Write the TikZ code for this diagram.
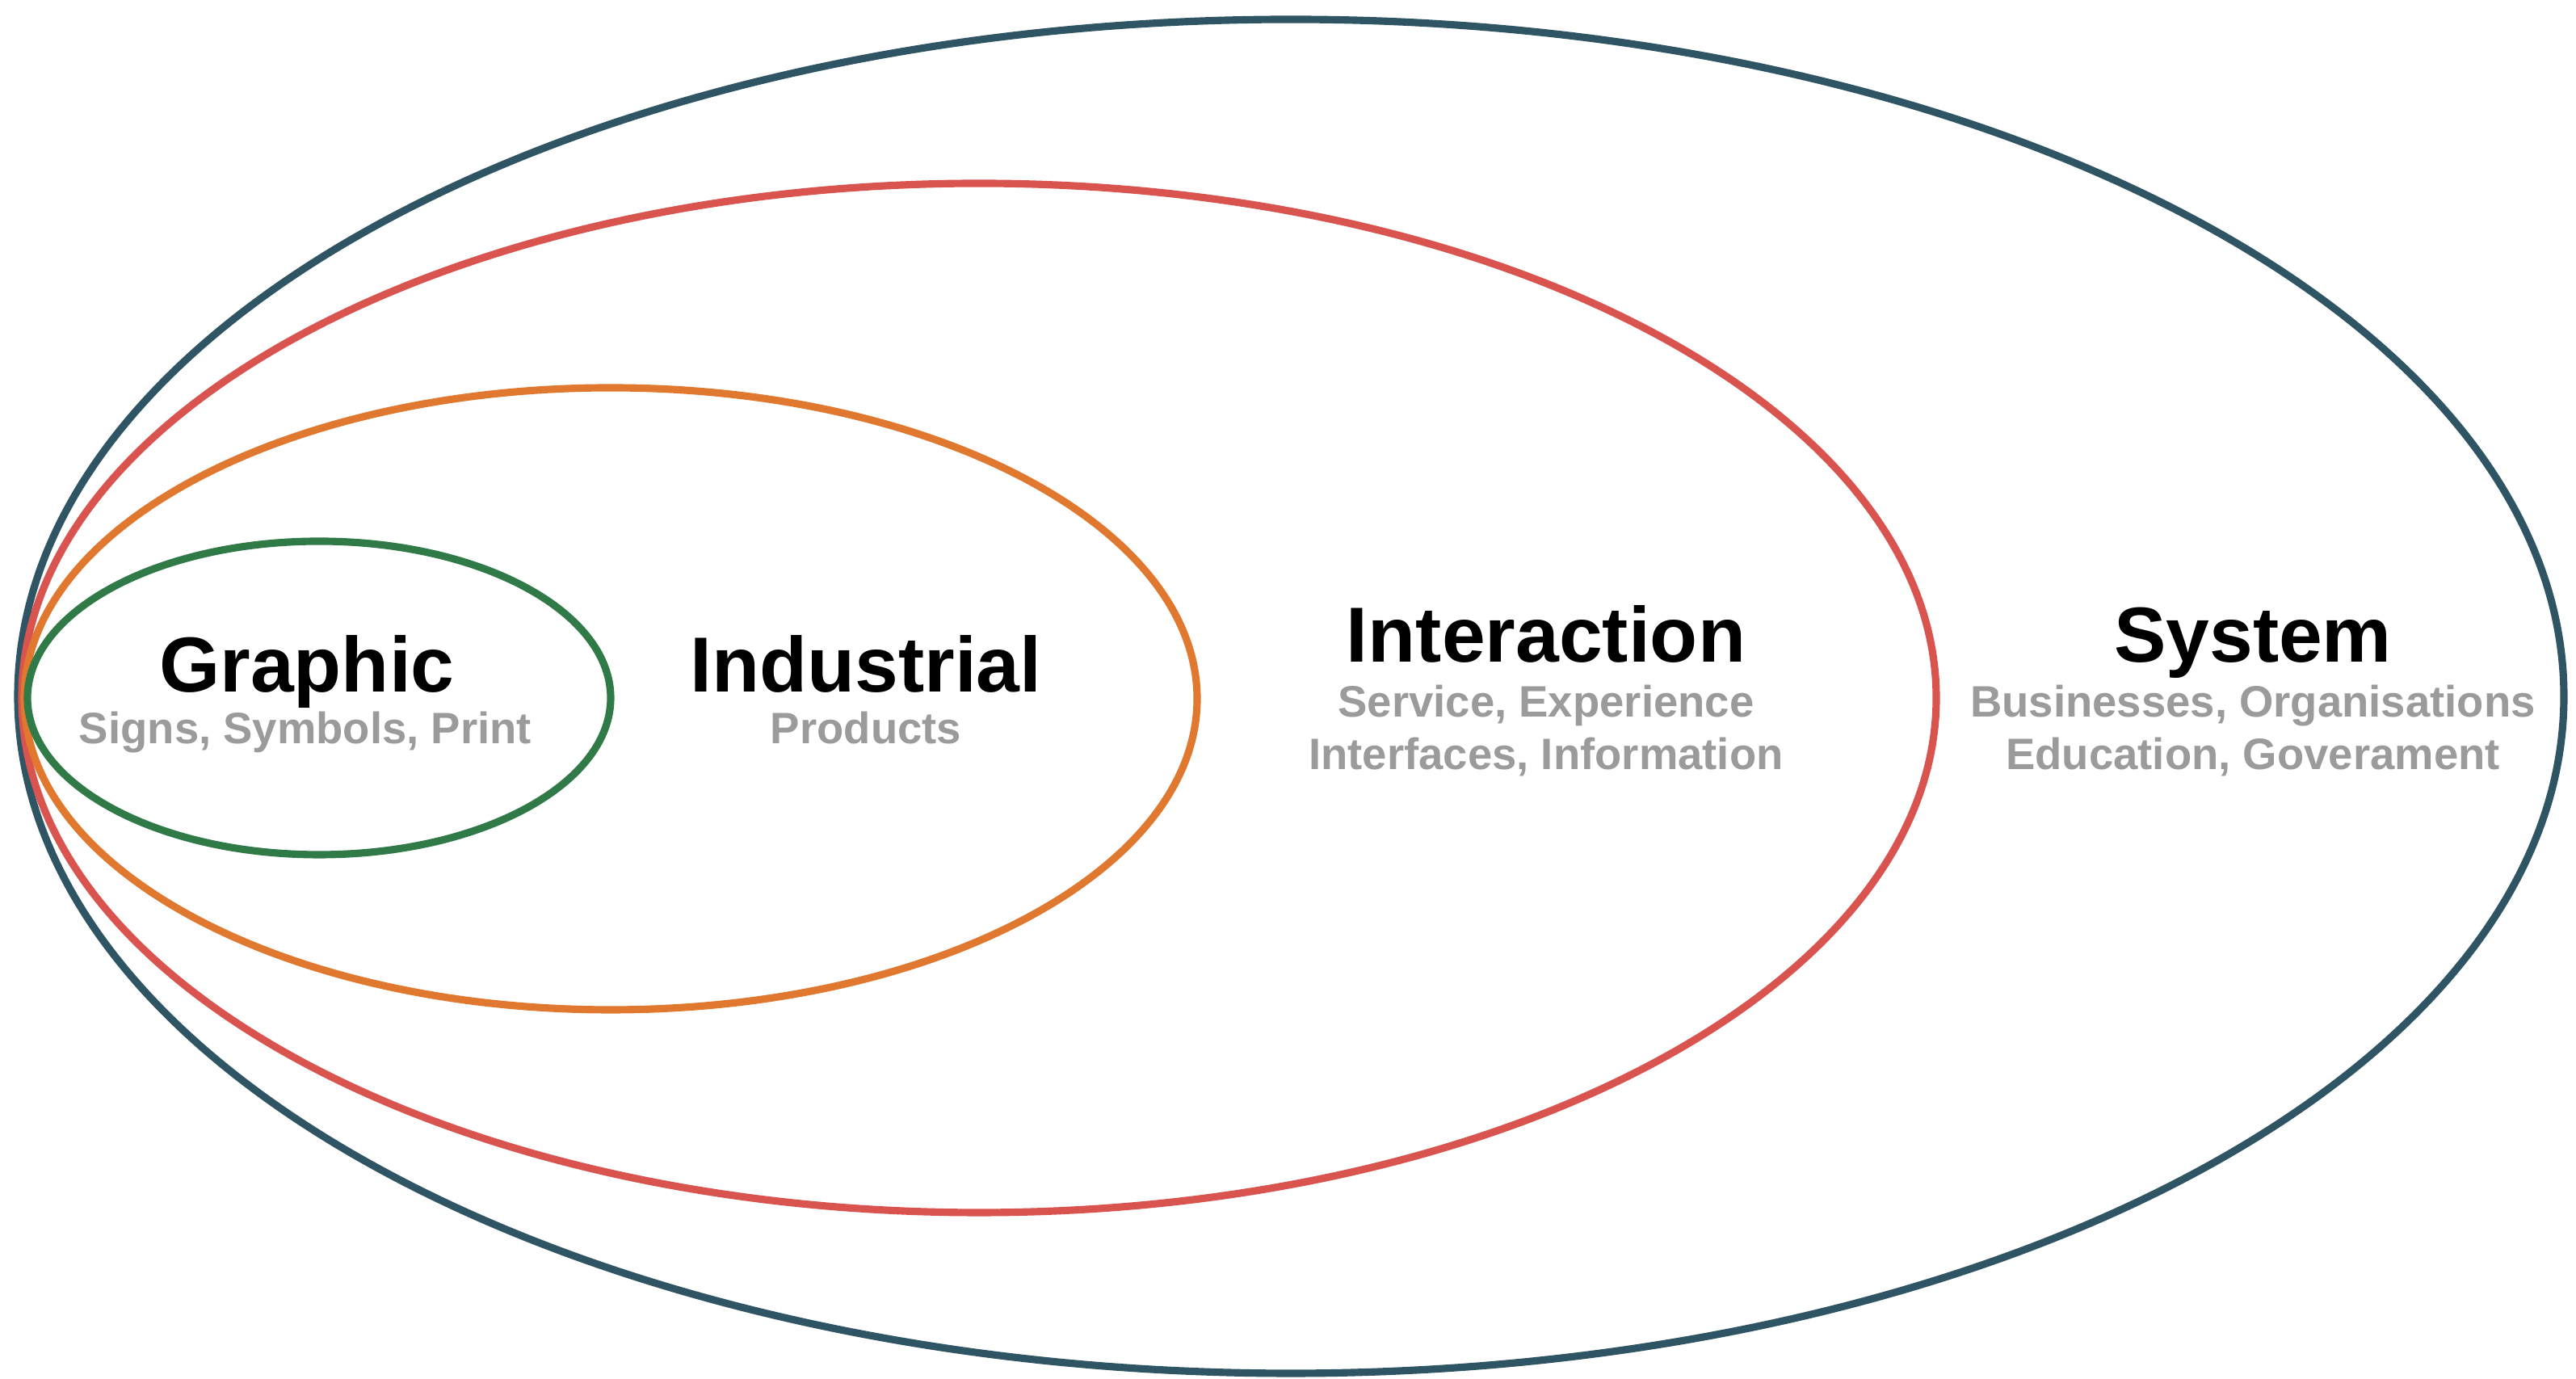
\documentclass[tikz,border=0pt]{standalone}
\usepackage{fontspec}
\setmainfont{Liberation Sans}
\usetikzlibrary{shapes.geometric}
\definecolor{sysblue}{HTML}{2F5565}
\definecolor{interred}{HTML}{D9534F}
\definecolor{indorange}{HTML}{E0782F}
\definecolor{graphgreen}{HTML}{2F7A47}
\definecolor{subgray}{HTML}{9B9B9B}
\begin{document}
\begin{tikzpicture}
	\tikzstyle{Ring} = [ellipse, line width=2.6pt, inner sep=0pt, outer sep=0pt]
	\tikzstyle{Title} = [anchor=base, font=\fontsize{27.5}{30}\selectfont\bfseries]
	\tikzstyle{Sub} = [anchor=base, text=subgray, font=\fontsize{15.5}{18.4}\selectfont\bfseries]
	
	\useasboundingbox (0,0) rectangle (31.89,17.07);
	\fill [white] (0,0) rectangle (31.89,17.07);
	
	\node (system) [Ring, draw=sysblue, minimum width=31.52cm, minimum height=16.76cm] at (15.98,8.45) {};
	\node (interaction) [Ring, draw=interred, minimum width=23.70cm, minimum height=12.74cm] at (12.12,8.43) {};
	\node (industrial) [Ring, draw=indorange, minimum width=14.52cm, minimum height=7.70cm] at (7.56,8.42) {};
	\node (graphic) [Ring, draw=graphgreen, minimum width=7.22cm, minimum height=3.88cm] at (3.95,8.43) {};
	
	\node (graphicT) [Title] at (3.80,8.50) {Graphic};
	\node (graphicS) [Sub] at (3.78,7.86) {Signs, Symbols, Print};
	\node (industrialT) [Title] at (10.72,8.50) {Industrial};
	\node (industrialS) [Sub] at (10.72,7.86) {Products};
	\node (interactionT) [Title] at (19.14,8.87) {Interaction};
	\node (interactionS) [Sub] at (19.14,8.19) {Service, Experience};
	\node (interactionS2) [Sub] at (19.14,7.54) {Interfaces, Information};
	\node (systemT) [Title] at (27.89,8.87) {System};
	\node (systemS) [Sub] at (27.89,8.19) {Businesses, Organisations};
	\node (systemS2) [Sub] at (27.89,7.54) {Education, Goverament};
\end{tikzpicture}
\end{document}
